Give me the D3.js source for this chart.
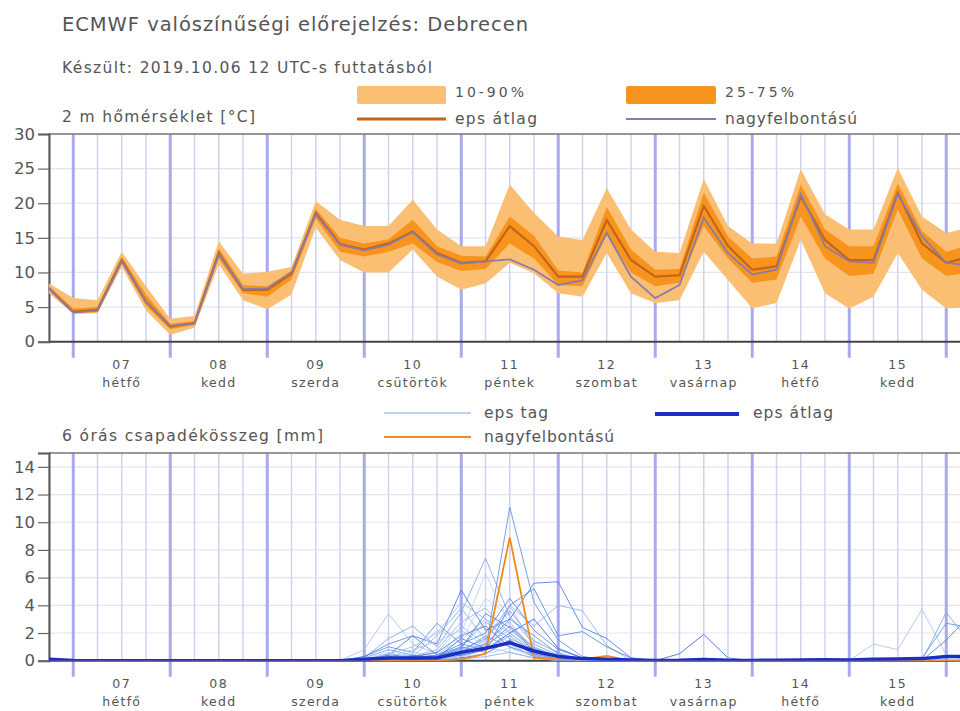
<!DOCTYPE html>
<html><head><meta charset="utf-8">
<script src="https://cdn.jsdelivr.net/npm/d3@7"></script>
<style>body{margin:0;background:#fff}svg{display:block}text{font-family:"DejaVu Sans",sans-serif;fill:#555}</style>
</head><body>
<svg id="c" width="960" height="711"></svg>
<script>
// ---------- DATA ----------
const runStart = "2019-10-06T18:00:00Z";      // first forecast time, 6-hourly steps
const stepHours = 6;
const dayNums  = ["07","08","09","10","11","12","13","14","15"];
const dayNames = ["hétfő","kedd","szerda","csütörtök","péntek","szombat","vasárnap","hétfő","kedd"];
const tempTicks = [0,5,10,15,20,25,30];
const precTicks = [0,2,4,6,8,10,12,14];

// 2 m temperature (°C)
const tMean = [7.7,4.3,4.6,11.8,5.8,2.2,2.7,12.8,7.5,7.5,9.8,18.6,14.1,13.3,14.2,15.9,12.8,11.4,11.6,16.7,13.8,9.4,9.4,17.6,11.8,9.4,9.6,19.6,13.8,10.4,10.9,21.0,14.7,11.8,11.8,21.5,14.2,11.4,12.3];
const tHres = [7.7,4.2,4.5,11.6,5.8,2.3,2.6,12.6,7.6,7.7,10.0,18.4,14.0,13.2,14.0,15.8,12.6,11.3,11.6,11.9,10.4,8.2,8.9,15.7,9.4,6.3,8.2,17.9,12.8,9.7,10.4,21.3,13.8,11.6,11.4,21.3,15.2,11.4,11.0];
const tP10  = [7.0,4.0,4.1,10.8,4.5,1.0,2.0,11.2,6.0,4.7,6.8,16.5,11.8,10.0,10.0,13.3,9.4,7.5,8.4,11.4,9.9,7.0,6.5,12.8,7.0,5.6,6.0,13.0,8.9,4.8,5.6,14.7,7.0,4.8,6.5,12.8,7.5,4.8,5.0];
const tP90  = [8.4,6.3,6.0,13.0,8.0,3.3,3.7,14.5,9.8,10.1,10.8,20.3,17.6,16.7,16.7,20.5,16.2,13.8,13.8,22.7,18.6,15.2,14.7,22.2,16.2,13.0,12.8,23.5,16.7,14.2,14.2,24.9,18.4,16.2,16.2,25.1,18.1,15.7,16.5];
const tP25  = [7.4,4.1,4.3,11.3,5.2,1.8,2.4,12.0,7.0,6.5,9.0,17.8,13.0,12.3,13.0,14.2,11.5,10.2,10.5,14.2,12.0,8.2,8.0,15.5,10.0,8.0,8.5,16.7,12.0,8.5,9.0,18.1,12.0,9.5,9.8,19.1,12.0,9.5,10.0];
const tP75  = [8.0,4.8,5.0,12.3,6.8,2.6,3.0,13.5,8.2,8.0,10.3,19.2,15.0,14.2,14.8,17.6,13.8,12.4,12.3,18.1,15.3,10.3,10.0,19.5,13.3,10.4,10.5,21.5,15.2,12.0,12.3,22.7,16.2,13.8,13.8,22.9,16.0,13.0,14.0];

// 6-hour precipitation (mm)
const pMean = [0.1,0.02,0,0,0,0,0,0,0,0,0,0,0,0.1,0.2,0.2,0.2,0.6,0.9,1.3,0.7,0.3,0.15,0.1,0.05,0.02,0.03,0.08,0.03,0.02,0.04,0.05,0.06,0.05,0.1,0.12,0.15,0.3,0.3];
const pHres = [0.05,0,0,0,0,0,0,0,0,0,0,0,0,0,0,0,0,0.1,0.5,8.9,0.2,0.1,0.1,0.35,0,0,0,0,0,0,0,0,0,0,0,0,0,0,0];
// ensemble members, values from step 12 (Oct 9 18 UTC) onwards; zero before
const memberFirstStep = 12;
const members = [
 [0,0.8,3.4,1.2,0.5,1.5,3.0,2.0,0.8,0.2,0,0,0,0,0,0,0,0,0,0,0,0,0,0,0,0,0],
 [0,0.2,1.6,2.5,1.0,3.5,7.4,3.2,1.2,0.4,0.1,0,0,0,0,0,0,0,0,0,0,0,0,0,0,0,0],
 [0,0.3,1.0,0.6,2.7,1.2,0.8,11.1,4.2,1.5,0.3,0,0,0,0,0,0,0,0,0,0,0,0,0,0,0,0],
 [0,0,0.4,1.8,1.2,5.1,2.2,3.0,5.6,5.7,2.4,1.6,0.2,0,0,0,0,0,0,0,0,0,0,0,0,0,0],
 [0,0,0.2,0.6,0.3,2.0,6.3,2.6,1.0,0.3,0,0,0,0,0,0,0,0,0,0,0,0,0,0,0,0,0],
 [0,0.1,0.5,0.3,1.8,3.8,1.5,4.0,2.5,4.0,3.6,1.1,0,0,0,0,0,0,0,0,0,0,0,0,0,0,0],
 [0,0,0.3,0.2,0.4,1.0,0.6,4.0,5.2,1.8,2.1,1.0,0.2,0,0,0,0,0,0,0,0,0,0,0,0,0,0],
 [0,0,0,0.2,0.6,2.5,1.2,2.8,0.6,0.1,0,0,0,0,0,0,0,0,0,0,0,0,0,0,0,0,0],
 [0,0.2,0.8,0.4,0.2,0.8,1.6,3.6,1.4,0.6,0,0,0,0,0,0,0,0,0,0,0,0,0,0,0,0,0],
 [0,0,0,0,0,0.2,0.5,1.5,0.4,0,0,0,0,0,0.5,1.9,0.2,0,0,0,0,0,0,0,0,0,0],
 [0,0,0,0.2,0.1,0.4,1.2,2.2,1.0,0.3,0,0,0,0,0,0,0,0,0,0,0,0,1.2,0.8,3.7,0.4,0],
 [0,0,0,0,0,0.3,0.8,1.8,0.5,0.1,0,0,0,0,0,0,0,0,0,0,0,0,0,0,0,3.5,1.2],
 [0,0,0,0,0,0.5,1.0,2.5,0.9,0.2,0,0,0,0,0,0,0,0,0,0,0,0,0,0,0.2,2.7,2.4],
 [0,0.1,0.4,0.3,0.6,1.8,2.5,1.0,0.4,0,0,0,0,0,0,0,0,0,0,0,0,0,0,0,0,1.5,3.3],
 [0,0,0.2,0.5,2.2,1.5,4.5,3.2,1.5,0.5,0.1,0,0,0,0,0,0,0,0,0,0,0,0,0,0,0,0],
 [0,0,0,0.3,0.8,2.8,3.8,2.0,0.6,0,0,0,0,0,0,0,0,0,0,0,0,0,0,0,0,0,0],
 [0,0.3,1.2,1.8,0.4,1.2,2.0,4.5,2.2,0.8,0.2,0,0,0,0,0,0,0,0,0,0,0,0,0,0,0,0],
 [0,0,0.5,1.0,2.0,4.2,3.0,1.2,0.3,0,0,0,0,0,0,0,0,0,0,0,0,0,0,0,0,0,0],
 [0,0,0,0.1,0.3,0.6,1.8,1.0,0.3,0,0,0,0,0,0,0,0,0,0,0,0,0,0,0,0,0,0],
 [0,0,0.2,0.1,0.2,0.4,0.8,2.0,3.0,0.9,0.2,0,0,0,0,0,0,0,0,0,0,0,0,0,0,0,0],
 [0,0.1,0.3,0.8,1.4,2.2,1.0,0.6,0.2,0,0,0,0,0,0,0,0,0,0,0,0,0,0,0,0,0,0],
 [0,0,0,0,0.2,1.0,2.8,1.6,0.8,0.2,0,0,0,0,0,0,0,0,0,0,0,0,0,0,0,0,0],
 [0,0,0.1,0.2,0.4,0.7,1.2,3.0,1.8,0.5,0,0,0,0,0,0,0,0,0,0,0,0,0,0,0,0,0],
 [0,0,0,0.4,0.2,1.6,0.9,1.4,0.5,0,0,0,0,0,0,0,0,0,0,0,0,0,0,0,0,0,0],
 [0,0.2,0.6,0.2,0.1,0.3,0.5,0.9,0.4,0.1,0,0,0,0,0,0,0,0,0,0,0,0,0,0,0,0,0],
 [0,0,0,0,0,0.1,0.3,0.6,0.2,0,0,0,0,0,0,0,0,0,0,0,0,0,0,0,0,0,0],
 [0,0,0.1,0,0.3,0.9,3.4,2.4,0.7,0,0,0,0,0,0,0,0,0,0,0,0,0,0,0,0,0,0],
 [0,0,0,0.2,0,0.5,1.5,4.0,1.0,0.2,0,0,0,0,0,0,0,0,0,0,0,0,0,0,0,0,0]
];
const memberColors = ["#a9c5ef","#7ea8ea","#5f90e4","#4a7bdc","#bcd2f2","#8db2ec","#5585e0","#9bbcee","#6d9ae6","#3c6ad8"];

// ---------- CHART ----------
const svg = d3.select("#c");
const t0 = new Date(runStart);
const times = tMean.map((_, i) => d3.utcHour.offset(t0, i * stepHours));
const tEnd = d3.utcHour.offset(t0, 40 * stepHours);
const x = d3.scaleUtc().domain([t0, tEnd]).range([49, 1019]);

const C = {band1:"#fbbf74", band2:"#f7941d", mean:"#c4631a", hres:"#8a7ca8",
           grid:"#e4e4f0", vthin:"#d2d2f0", vthick:"#a9a9ef", frame:"#555"};

function label(g, x0, y0, size, str, len) {
  const t = g.append("text").attr("x",x0).attr("y",y0).attr("font-size",size).text(str);
  if (len) t.attr("textLength",len).attr("lengthAdjust","spacing");
  return t;
}
label(svg, 62, 31, 19.5, "ECMWF valószínűségi előrejelzés: Debrecen", 466);
label(svg, 62, 73, 15.5, "Készült: 2019.10.06 12 UTC-s futtatásból", 370);

function panel(y, ticks, title, titleY, titleLen, id) {
  const top = y.range()[1], bot = y.range()[0];
  const g = svg.append("g");
  g.append("clipPath").attr("id", id).append("rect")
    .attr("x", 49).attr("y", top).attr("width", 1000).attr("height", bot - top);
  g.selectAll(".hg").data(ticks).join("line")
    .attr("x1",49).attr("x2",1019).attr("y1",d=>y(d)).attr("y2",d=>y(d))
    .attr("stroke",C.grid).attr("stroke-width",1.2);
  const hrs = d3.utcHour.every(6).range(t0, tEnd).filter(d => d.getUTCHours() !== 0);
  g.selectAll(".vg").data(hrs).join("line")
    .attr("x1",d=>x(d)).attr("x2",d=>x(d)).attr("y1",top).attr("y2",bot)
    .attr("stroke",C.vthin).attr("stroke-width",1.5);
  const days = d3.utcDay.range(d3.utcHour.offset(t0,1), tEnd);
  g.selectAll(".vd").data(days).join("line")
    .attr("x1",d=>x(d)).attr("x2",d=>x(d)).attr("y1",top).attr("y2",bot+16)
    .attr("stroke",C.vthick).attr("stroke-width",3);
  const noons = days.slice(0, dayNums.length).map(d => d3.utcHour.offset(d, 12));
  g.selectAll(".dn").data(noons).join("text")
    .attr("x",d=>x(d)).attr("y",bot+27).attr("text-anchor","middle").attr("font-size",12.5)
    .attr("letter-spacing",1.5).text((d,i)=>dayNums[i]);
  g.selectAll(".dd").data(noons).join("text")
    .attr("x",d=>x(d)).attr("y",bot+45).attr("text-anchor","middle").attr("font-size",12.5)
    .attr("letter-spacing",1.3).text((d,i)=>dayNames[i]);
  g.append("line").attr("x1",49).attr("x2",1019).attr("y1",top).attr("y2",top).attr("stroke","#777").attr("stroke-width",1.5);
  g.append("line").attr("x1",49).attr("x2",1019).attr("y1",bot).attr("y2",bot).attr("stroke","#444").attr("stroke-width",2);
  const ax = g.append("g").attr("transform","translate(49,0)")
    .call(d3.axisLeft(y).tickValues(ticks).tickSize(11).tickPadding(3).tickFormat(d3.format("d")));
  ax.select(".domain").attr("stroke",C.frame).attr("stroke-width",2);
  ax.selectAll(".tick line").attr("stroke","#666").attr("stroke-width",1.2);
  ax.selectAll(".tick text").attr("font-size",16.5).attr("fill","#555").attr("font-family","DejaVu Sans, sans-serif");
  label(svg, 62, titleY, 15.5, title, titleLen);
  return svg.append("g").attr("clip-path",`url(#${id})`);
}

// ---- temperature panel ----
const yT = d3.scaleLinear().domain([0,30]).range([341.7,134]);
const pT = panel(yT, tempTicks, "2 m hőmérséklet [°C]", 122, 193, "clipT");
const area = (lo, hi) => d3.area().x((d,i)=>x(times[i])).y0((d,i)=>yT(lo[i])).y1((d,i)=>yT(hi[i]));
pT.append("path").datum(tMean).attr("d", area(tP10,tP90)).attr("fill",C.band1);
pT.append("path").datum(tMean).attr("d", area(tP25,tP75)).attr("fill",C.band2);
const lineT = d3.line().x((d,i)=>x(times[i])).y(d=>yT(d));
pT.append("path").datum(tMean).attr("d",lineT).attr("fill","none").attr("stroke",C.mean).attr("stroke-width",2.2);
pT.append("path").datum(tHres).attr("d",lineT).attr("fill","none").attr("stroke",C.hres).attr("stroke-width",1.8);

// legend (temperature)
const lg = svg.append("g");
lg.append("rect").attr("x",357).attr("y",86).attr("width",89).attr("height",18).attr("rx",2).attr("fill",C.band1);
lg.append("rect").attr("x",626).attr("y",86).attr("width",90).attr("height",18).attr("rx",2).attr("fill",C.band2);
lg.append("line").attr("x1",357).attr("x2",446).attr("y1",119).attr("y2",119).attr("stroke",C.mean).attr("stroke-width",3);
lg.append("line").attr("x1",626).attr("x2",716).attr("y1",119).attr("y2",119).attr("stroke",C.hres).attr("stroke-width",2);
label(lg, 455, 97, 14, "10-90%", 69);
label(lg, 725, 97, 14, "25-75%", 69);
label(lg, 455, 124, 15.5, "eps átlag", 82);
label(lg, 725, 124, 15.5, "nagyfelbontású", 132);

// ---- precipitation panel ----
const yP = d3.scaleLinear().domain([0,15]).range([660.7,453]);
const pP = panel(yP, precTicks, "6 órás csapadékösszeg [mm]", 441, 261, "clipP");
const lineP = d3.line().x((d,i)=>x(times[i])).y(d=>yP(d));
const fullMembers = members.map(m => tMean.map((_, i) => i < memberFirstStep ? 0 : m[i - memberFirstStep]));
pP.selectAll(".mem").data(fullMembers).join("path")
  .attr("d",lineP).attr("fill","none")
  .attr("stroke",(d,i)=>memberColors[i % memberColors.length]).attr("stroke-width",1).attr("stroke-opacity",0.85);
pP.append("path").datum(pHres).attr("d",lineP).attr("fill","none").attr("stroke","#f08a1e").attr("stroke-width",1.8);
pP.append("path").datum(pMean).attr("d",lineP).attr("fill","none").attr("stroke","#1a2ec4").attr("stroke-width",3.5);

// legend (precipitation)
const lp = svg.append("g");
lp.append("line").attr("x1",384).attr("x2",471).attr("y1",413).attr("y2",413).attr("stroke","#a9c3ea").attr("stroke-width",1.5);
lp.append("line").attr("x1",384).attr("x2",471).attr("y1",437).attr("y2",437).attr("stroke","#f08a1e").attr("stroke-width",2);
lp.append("line").attr("x1",655).attr("x2",739).attr("y1",414).attr("y2",414).attr("stroke","#1a2ec4").attr("stroke-width",4);
label(lp, 484, 418, 15.5, "eps tag", 64);
label(lp, 484, 442, 15.5, "nagyfelbontású", 130);
label(lp, 753, 418, 15.5, "eps átlag", 80);
</script>
</body></html>
